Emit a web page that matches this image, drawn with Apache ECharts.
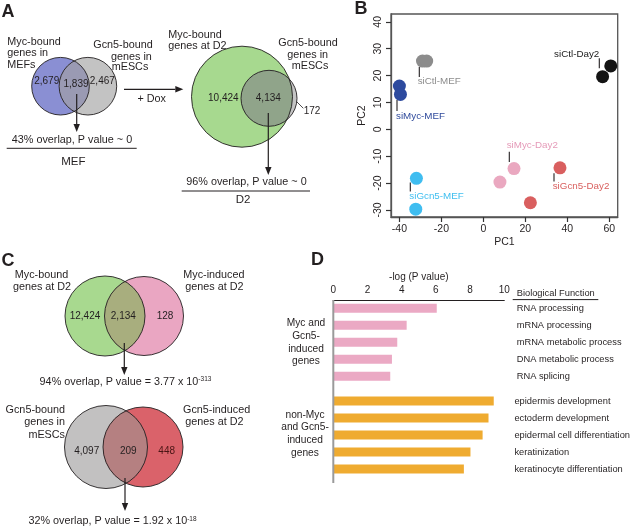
<!DOCTYPE html>
<html><head><meta charset="utf-8">
<script src="https://cdn.jsdelivr.net/npm/echarts@6/dist/echarts.min.js"></script>
<style>html,body{margin:0;padding:0;background:#fff}#c{width:633px;height:526px}</style>
</head><body><div id="c"></div>
<script>
const FONT = '"Liberation Sans", Arial, Helvetica, sans-serif';

// ---- Panel B: PCA ----
const pcaCtlMEF   = [[-29.0, 25.4], [-27.0, 25.4]];
const pcaMycMEF   = [[-40.0, 16.1], [-39.5, 13.0]];
const pcaGcn5MEF  = [[-31.9, -18.2], [-32.2, -29.7]];
const pcaCtlDay2  = [[60.7, 23.6], [56.8, 19.6]];
const pcaMycDay2  = [[14.6, -14.6], [7.9, -19.6]];
const pcaGcn5Day2 = [[36.5, -14.3], [22.4, -27.3]];
const pcaXTicks = [-40, -20, 0, 20, 40, 60];
const pcaYTicks = [-30, -20, -10, 0, 10, 20, 30, 40];

// ---- Panel D: GO terms ----
const goMycTerms = ['RNA processing', 'mRNA processing', 'mRNA metabolic process', 'DNA metabolic process', 'RNA splicing'];
const goMycValues = [6.05, 4.29, 3.74, 3.43, 3.33];
const goNonMycTerms = ['epidermis development', 'ectoderm development', 'epidermal cell differentiation', 'keratinization', 'keratinocyte differentiation'];
const goNonMycValues = [9.51, 9.20, 8.85, 8.13, 7.74];

// ---- Venn counts ----
const vennMEF = ['2,679', '1,839', '2,467'];
const vennD2 = ['10,424', '4,134', '172'];
const vennMycInduced = ['12,424', '2,134', '128'];
const vennGcn5Induced = ['4,097', '209', '448'];

// ---------- helpers ----------
function txt(x, y, text, o) {
  o = o || {};
  return { type: 'text', x: x, y: y, z: 10, style: {
    text: text, fill: o.fill || '#231f20', fontSize: o.size || 10.8, fontFamily: FONT,
    fontWeight: o.weight || 'normal', align: o.align || 'center', verticalAlign: 'middle',
    rich: o.rich } };
}
function ln(x1, y1, x2, y2, color, w) {
  return { type: 'line', z: 9, shape: { x1: x1, y1: y1, x2: x2, y2: y2 }, style: { stroke: color || '#231f20', lineWidth: w || 1 } };
}
function arrow(x1, y1, x2, y2) {
  const dx = x2 - x1, dy = y2 - y1, L = Math.hypot(dx, dy), ux = dx / L, uy = dy / L;
  const hl = 8, hw = 3.2;
  const bx = x2 - ux * hl, by = y2 - uy * hl;
  return [ln(x1, y1, bx, by, '#231f20', 1.2),
    { type: 'polygon', z: 9, shape: { points: [[x2, y2], [bx - uy * hw, by + ux * hw], [bx + uy * hw, by - ux * hw]] }, style: { fill: '#231f20' } }];
}
function circ(cx, cy, r, fill) {
  return { type: 'circle', z: 5, shape: { cx: cx, cy: cy, r: r }, style: { fill: fill, stroke: null } };
}
function ring(cx, cy, r) {
  return { type: 'circle', z: 7, shape: { cx: cx, cy: cy, r: r }, style: { fill: null, stroke: '#231f20', lineWidth: 0.9 } };
}
function lens(a, b, fill) {
  const pts = [], N = 720;
  for (let i = 0; i < N; i++) {
    const t = i / N * Math.PI * 2;
    const p = [a.cx + a.r * Math.cos(t), a.cy + a.r * Math.sin(t)];
    if (Math.hypot(p[0] - b.cx, p[1] - b.cy) <= b.r) pts.push(p);
    const q = [b.cx + b.r * Math.cos(t), b.cy + b.r * Math.sin(t)];
    if (Math.hypot(q[0] - a.cx, q[1] - a.cy) <= a.r) pts.push(q);
  }
  let mx = 0, my = 0; pts.forEach(p => { mx += p[0]; my += p[1]; }); mx /= pts.length; my /= pts.length;
  pts.sort((p, q) => Math.atan2(p[1] - my, p[0] - mx) - Math.atan2(q[1] - my, q[0] - mx));
  return { type: 'polygon', z: 6, shape: { points: pts }, style: { fill: fill } };
}
function venn(a, b, colA, colB, colAB) {
  return [circ(a.cx, a.cy, a.r, colA), circ(b.cx, b.cy, b.r, colB), lens(a, b, colAB), ring(a.cx, a.cy, a.r), ring(b.cx, b.cy, b.r)];
}
function pval(x, y, main, sup) {
  return txt(x, y, '{m|' + main + '}{s|' + sup + '}', { rich: {
    m: { fontSize: 10.8, fontFamily: FONT, fill: '#231f20' },
    s: { fontSize: 6.5, fontFamily: FONT, fill: '#231f20', verticalAlign: 'top', padding: [0, 0, 5, 0] } } });
}

const G = [];
// panel letters
G.push(txt(8, 12, 'A', { size: 18, weight: 'bold' }));
G.push(txt(361, 9, 'B', { size: 18, weight: 'bold' }));
G.push(txt(8, 261, 'C', { size: 18, weight: 'bold' }));
G.push(txt(317.5, 260, 'D', { size: 18, weight: 'bold' }));

// ---- Panel A, Venn 1 (MEF) ----
const v1a = { cx: 60.5, cy: 86.2, r: 28.8 }, v1b = { cx: 87.9, cy: 86.2, r: 28.8 };
G.push(...venn(v1a, v1b, '#8a8fd3', '#c3c3c3', '#9a9ab3'));
G.push(txt(46.7, 81, vennMEF[0], { size: 10 }));
G.push(txt(76, 84, vennMEF[1], { size: 10 }));
G.push(txt(102.3, 81, vennMEF[2], { size: 10 }));
G.push(txt(7.3, 41.7, 'Myc-bound', { align: 'left' }));
G.push(txt(7.3, 53.3, 'genes in', { align: 'left' }));
G.push(txt(7.3, 65, 'MEFs', { align: 'left' }));
G.push(txt(93.3, 45, 'Gcn5-bound', { align: 'left' }));
G.push(txt(111, 56.7, 'genes in', { align: 'left' }));
G.push(txt(111.7, 67, 'mESCs', { align: 'left' }));
G.push(...arrow(76.7, 94, 76.7, 132));
G.push(txt(72, 140, '43% overlap, P value ~ 0'));
G.push(ln(6.7, 148.3, 136.7, 148.3, '#231f20', 1));
G.push(txt(73.3, 161.7, 'MEF', { size: 11.5 }));
// + Dox arrow
G.push(...arrow(124, 89.3, 183.3, 89.3));
G.push(txt(151.7, 99.3, '+ Dox'));

// ---- Panel A, Venn 2 (D2) ----
const v2a = { cx: 242, cy: 96.7, r: 50.5 }, v2b = { cx: 269, cy: 98.3, r: 28 };
G.push(...venn(v2a, v2b, '#a7d98f', '#c4c4c4', '#90a48a'));
G.push(txt(223.3, 98.3, vennD2[0], { size: 10 }));
G.push(txt(268.3, 98.3, vennD2[1], { size: 10 }));
G.push(ln(296.7, 101.7, 303.3, 108.3, '#231f20', 0.8));
G.push(txt(312, 111.7, vennD2[2], { size: 10 }));
G.push(txt(168.3, 35, 'Myc-bound', { align: 'left' }));
G.push(txt(168.3, 46.5, 'genes at D2', { align: 'left' }));
G.push(txt(278.3, 43.3, 'Gcn5-bound', { align: 'left' }));
G.push(txt(287.3, 55, 'genes in', { align: 'left' }));
G.push(txt(291.7, 66, 'mESCs', { align: 'left' }));
G.push(...arrow(268.3, 113, 268.3, 175));
G.push(txt(246.5, 181.7, '96% overlap, P value ~ 0'));
G.push(ln(181.7, 191, 310, 191, '#231f20', 1));
G.push(txt(243, 200, 'D2', { size: 11.5 }));

// ---- Panel C, Venn 3 ----
const v3a = { cx: 105, cy: 316, r: 40 }, v3b = { cx: 144, cy: 316, r: 39.5 };
G.push(...venn(v3a, v3b, '#a8d98f', '#eaa6c2', '#a8ae7e'));
G.push(txt(85, 316.7, vennMycInduced[0], { size: 10 }));
G.push(txt(123.3, 316.7, vennMycInduced[1], { size: 10 }));
G.push(txt(165, 316.7, vennMycInduced[2], { size: 10 }));
G.push(txt(41.5, 275, 'Myc-bound'));
G.push(txt(42, 286.7, 'genes at D2'));
G.push(txt(183.3, 275, 'Myc-induced', { align: 'left' }));
G.push(txt(185.3, 286.7, 'genes at D2', { align: 'left' }));
G.push(...arrow(124.3, 343, 124.3, 375));
G.push(pval(125.5, 381.7, '94% overlap, P value = 3.77 x 10', '-313'));

// ---- Panel C, Venn 4 ----
const v4a = { cx: 106, cy: 447, r: 41.5 }, v4b = { cx: 143, cy: 447, r: 40 };
G.push(...venn(v4a, v4b, '#c2c1c1', '#da626a', '#b58081'));
G.push(txt(86.7, 451.7, vennGcn5Induced[0], { size: 10 }));
G.push(txt(128.3, 451.7, vennGcn5Induced[1], { size: 10 }));
G.push(txt(166.7, 451.7, vennGcn5Induced[2], { size: 10, fill: '#4a1515' }));
G.push(txt(65, 410, 'Gcn5-bound', { align: 'right' }));
G.push(txt(65, 422.5, 'genes in', { align: 'right' }));
G.push(txt(65, 435, 'mESCs', { align: 'right' }));
G.push(txt(183, 410, 'Gcn5-induced', { align: 'left' }));
G.push(txt(185.3, 421.7, 'genes at D2', { align: 'left' }));
G.push(...arrow(125, 478, 125, 511));
G.push(pval(112.5, 521.5, '32% overlap, P value = 1.92 x 10', '-18'));

// ---- Panel B annotations ----
const lblB = [
  ['siCtl-MEF', 417.7, 81.7, '#8c8c8c', 'left', 419.3, 67, 77],
  ['siMyc-MEF', 396, 116, '#2f4a9c', 'left', 397, 100, 111],
  ['siCtl-Day2', 599.3, 54, '#1a1a1a', 'right', 599.3, 58.3, 68.3],
  ['siMyc-Day2', 506.7, 145.7, '#e59ab8', 'left', 509.3, 151.7, 162],
  ['siGcn5-Day2', 552.7, 186.7, '#d9605f', 'left', 554, 173.3, 181.5],
  ['siGcn5-MEF', 409.3, 196.7, '#40bff0', 'left', 410.3, 182.5, 191.5]
];
lblB.forEach(l => { G.push(txt(l[1], l[2], l[0], { fill: l[3], align: l[4], size: 9.8 })); G.push(ln(l[5], l[6], l[5], l[7], '#231f20', 1.1)); });

// ---- Panel D annotations ----
G.push(ln(333.3, 300, 333.3, 483, '#9a9a9a', 2));
G.push(txt(516.7, 293.3, 'Biological Function', { align: 'left', size: 9.3 }));
G.push(ln(512.7, 299.6, 598.3, 299.6, '#231f20', 1));
['Myc and', 'Gcn5-', 'induced', 'genes'].forEach((s, i) => G.push(txt(306, 323.5 + i * 12.6, s, { size: 10.2 })));
['non-Myc', 'and Gcn5-', 'induced', 'genes'].forEach((s, i) => G.push(txt(305, 415 + i * 12.6, s, { size: 10.2 })));

const pcaSeries = [
  ['siCtl-MEF', pcaCtlMEF, '#8c8c8c'],
  ['siMyc-MEF', pcaMycMEF, '#2d4a9e'],
  ['siGcn5-MEF', pcaGcn5MEF, '#3fbdf0'],
  ['siCtl-Day2', pcaCtlDay2, '#141414'],
  ['siMyc-Day2', pcaMycDay2, '#eaa8c0'],
  ['siGcn5-Day2', pcaGcn5Day2, '#d95f5f']
].map(s => ({ type: 'scatter', name: s[0], xAxisIndex: 0, yAxisIndex: 0, data: s[1], symbolSize: 13,
  itemStyle: { color: s[2], opacity: 1 }, emphasis: { disabled: true } }));

const chart = echarts.init(document.getElementById('c'), null, { renderer: 'canvas' });
const axLbl = { fontFamily: FONT, fontSize: 10.5, color: '#231f20' };
const boxLine = { show: true, onZero: false, lineStyle: { color: '#555', width: 1.3 } };
chart.setOption({
  animation: false,
  textStyle: { fontFamily: FONT },
  grid: [
    { left: 391, top: 14, width: 226.7, height: 203, show: true, borderColor: '#555', borderWidth: 1.3, backgroundColor: 'transparent' },
    { left: 333.3, top: 299.8, width: 171, height: 85 },
    { left: 333.3, top: 392.5, width: 171, height: 85 }
  ],
  xAxis: [
    { gridIndex: 0, type: 'value', min: -44, max: 64, name: 'PC1', nameLocation: 'middle', nameGap: 20,
      nameTextStyle: { fontFamily: FONT, fontSize: 10.5, color: '#231f20' },
      axisLine: boxLine, splitLine: { show: false },
      axisTick: { show: true, inside: false, length: 5, customValues: pcaXTicks, lineStyle: { color: '#333', width: 1.2 } },
      axisLabel: Object.assign({ customValues: pcaXTicks, margin: 7 }, axLbl) },
    { gridIndex: 1, type: 'value', min: 0, max: 10, interval: 2, position: 'top',
      name: '-log (P value)', nameLocation: 'middle', nameGap: 18,
      nameTextStyle: { fontFamily: FONT, fontSize: 10, color: '#231f20' },
      axisLine: { show: true, onZero: false, lineStyle: { color: '#231f20', width: 1 } },
      axisTick: { show: false }, splitLine: { show: false },
      axisLabel: Object.assign({ margin: 5 }, axLbl, { fontSize: 10 }) },
    { gridIndex: 2, type: 'value', min: 0, max: 10, show: false }
  ],
  yAxis: [
    { gridIndex: 0, type: 'value', min: -32.6, max: 42.9, name: 'PC2', nameLocation: 'middle', nameGap: 23, nameRotate: 90,
      nameTextStyle: { fontFamily: FONT, fontSize: 10.5, color: '#231f20' },
      axisLine: boxLine, splitLine: { show: false },
      axisTick: { show: true, inside: false, length: 5, customValues: pcaYTicks, lineStyle: { color: '#333', width: 1.2 } },
      axisLabel: Object.assign({ customValues: pcaYTicks, rotate: 90, margin: 7 }, axLbl) },
    { gridIndex: 1, type: 'category', data: goMycTerms, inverse: true, position: 'right',
      axisLine: { show: false }, axisTick: { show: false },
      axisLabel: { align: 'left', margin: 12.4, fontFamily: FONT, fontSize: 9.3, color: '#231f20' } },
    { gridIndex: 2, type: 'category', data: goNonMycTerms, inverse: true, position: 'right',
      axisLine: { show: false }, axisTick: { show: false },
      axisLabel: { align: 'left', margin: 12.4, fontFamily: FONT, fontSize: 9.3, color: '#231f20' } }
  ],
  series: pcaSeries.concat([
    { type: 'bar', xAxisIndex: 1, yAxisIndex: 1, data: goMycValues, barWidth: 9, itemStyle: { color: '#eba9c4' }, emphasis: { disabled: true } },
    { type: 'bar', xAxisIndex: 2, yAxisIndex: 2, data: goNonMycValues, barWidth: 9, itemStyle: { color: '#efab30' }, emphasis: { disabled: true } }
  ]),
  graphic: { elements: G }
});
</script>
</body></html>
